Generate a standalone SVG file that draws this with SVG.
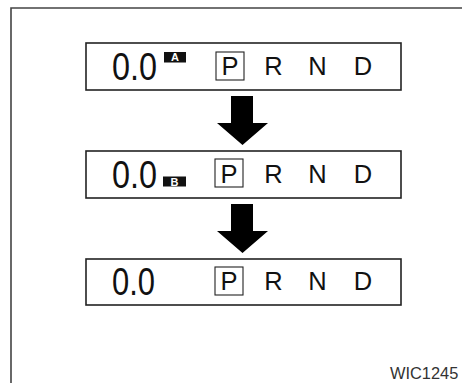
<svg xmlns="http://www.w3.org/2000/svg" width="462" height="383" viewBox="0 0 462 383">
<style>
.frame{fill:none;stroke:#444;stroke-width:1.6}
.panel{fill:#fff;stroke:#222;stroke-width:1.6}
.pbox{fill:none;stroke:#222;stroke-width:1.1}
.digits{font-family:"Liberation Sans",Arial,sans-serif;font-size:39px;fill:#111}
.gear{font-family:"Liberation Sans",Arial,sans-serif;font-size:25.5px;fill:#111;text-anchor:middle}
.badge{fill:#111}
.badgetxt{font-family:"Liberation Sans",Arial,sans-serif;font-size:11px;font-weight:bold;fill:#fff;text-anchor:middle}
.arrow{fill:#000}
.code{font-family:"Liberation Sans",Arial,sans-serif;font-size:16.4px;fill:#333}
</style>
<rect width="462" height="383" fill="#fff"/>
<path class="frame" d="M11,383 V8 H462"/>
<g id="display1">
<rect class="panel" x="86" y="43" width="315" height="47"/>
<text class="digits" x="112" y="80" textLength="45" lengthAdjust="spacingAndGlyphs">0.0</text>
<rect class="badge" x="164" y="52" width="22" height="10.5"/>
<text class="badgetxt" x="175" y="61.3">A</text>
<rect class="pbox" x="216" y="52" width="28" height="28"/>
<text class="gear" x="230" y="75">P</text>
<text class="gear" x="273.5" y="75">R</text>
<text class="gear" x="317.5" y="75">N</text>
<text class="gear" x="363" y="75">D</text>
</g>
<g id="display2">
<rect class="panel" x="86" y="151" width="315" height="47"/>
<text class="digits" x="112" y="188" textLength="45" lengthAdjust="spacingAndGlyphs">0.0</text>
<rect class="badge" x="163" y="176.5" width="23" height="10"/>
<text class="badgetxt" x="174.5" y="185.5">B</text>
<rect class="pbox" x="215" y="159" width="28" height="28"/>
<text class="gear" x="229" y="183">P</text>
<text class="gear" x="273.5" y="183">R</text>
<text class="gear" x="317.5" y="183">N</text>
<text class="gear" x="363" y="183">D</text>
</g>
<g id="display3">
<rect class="panel" x="86" y="259" width="315" height="46"/>
<text class="digits" x="112" y="295" textLength="43" lengthAdjust="spacingAndGlyphs">0.0</text>
<rect class="pbox" x="215" y="267" width="28" height="28"/>
<text class="gear" x="229" y="290">P</text>
<text class="gear" x="273.5" y="290">R</text>
<text class="gear" x="317.5" y="290">N</text>
<text class="gear" x="363" y="290">D</text>
</g>
<g id="connectors">
<polygon class="arrow" points="231,96 253,96 253,123 268,123 242.5,145 217,123 231,123"/>
<polygon class="arrow" points="231,204 253,204 253,231 268,231 242.5,253 217,231 231,231"/>
</g>
<text class="code" x="390" y="379">WIC1245</text>
</svg>
